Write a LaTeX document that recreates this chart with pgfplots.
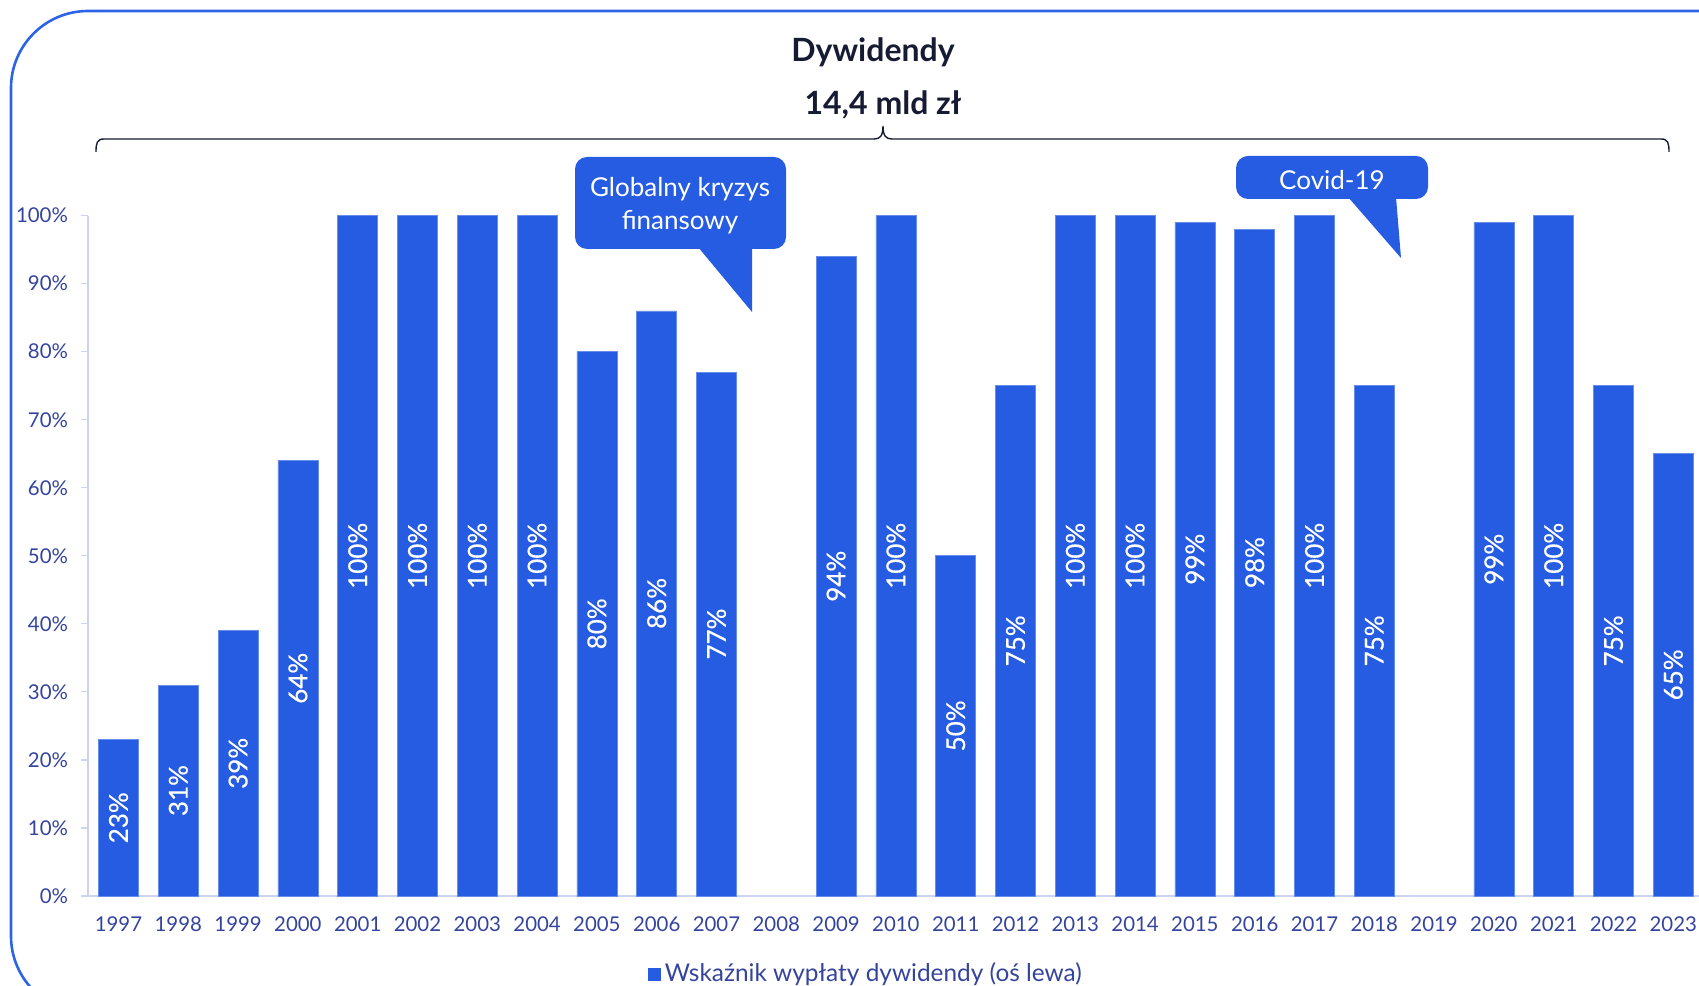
\documentclass[border=0pt]{standalone}
\usepackage{pgfplots}
\pgfplotsset{compat=1.18}
\usepackage{pgfplotstable}
\usepackage{fontspec}
\setmainfont{Lato}
\newfontfamily\medfont[FakeBold=0.5]{Lato}
\definecolor{barblue}{RGB}{38,92,226}
\definecolor{tickblue}{RGB}{52,68,158}
\definecolor{axisline}{RGB}{205,211,243}
\definecolor{titlecol}{RGB}{22,27,51}
\definecolor{framecol}{RGB}{45,99,230}

\pgfplotstableread{
x v
0 23
1 31
2 39
3 64
4 100
5 100
6 100
7 100
8 80
9 86
10 77
12 94
13 100
14 50
15 75
16 100
17 100
18 99
19 98
20 100
21 75
23 99
24 100
25 75
26 65
}\datatable

\begin{document}
\begin{tikzpicture}
\useasboundingbox (0,0) rectangle (849.5pt,493pt);
\begin{scope}[x=0.5pt,y=-0.5pt,yshift=493pt]
  \begin{scope}
    \clip (0,0) rectangle (1699,986);
    \draw[framecol, line width=1.3pt, rounded corners=38.5pt] (11,1013) rectangle (1780,11);
  \end{scope}
  \node[font=\bfseries\fontsize{16}{19}\selectfont, text=titlecol] at (873,52) {Dywidendy};
  \node[font=\bfseries\fontsize{16}{19}\selectfont, text=titlecol] at (883,105) {14,4 mld zł};
  \draw[titlecol, line width=0.7pt] (96,152) .. controls (96,143) and (97,139) .. (104,139) -- (874,139)
     .. controls (880,139) and (883,136) .. (883,126) .. controls (883,136) and (886,139) .. (892,139)
     -- (1661,139) .. controls (1668,139) and (1669,143) .. (1669,152);
  \fill[barblue, rounded corners=6pt] (575,157) rectangle (786,249);
  \fill[barblue] (698,247) -- (752,247) -- (752,312) -- cycle;
  \node[text=white, align=center, font=\fontsize{13}{16.5}\selectfont] at (680,206) {Globalny kryzys\\finansowy};
  \fill[barblue, rounded corners=6pt] (1236,156) rectangle (1428,199);
  \fill[barblue] (1348,197) -- (1396,197) -- (1401,258) -- cycle;
  \node[text=white, font=\fontsize{13}{16}\selectfont] at (1332,180) {Covid-19};
\end{scope}

\begin{axis}[
  at={(44pt,45pt)}, anchor=south west, scale only axis,
  width=805.5pt, height=340.2pt,
  xmin=-0.51, xmax=26.43, ymin=0, ymax=100,
  axis x line*=bottom, axis y line*=left,
  x axis line style={axisline, line width=1pt},
  y axis line style={axisline, line width=0.6pt},
  /pgf/number format/assume math mode=true,
  ytick={0,10,...,100},
  yticklabel={\pgfmathprintnumber{\tick}\%},
  xtick={0,...,26},
  xticklabels={1997,1998,1999,2000,2001,2002,2003,2004,2005,2006,2007,2008,2009,2010,2011,2012,2013,2014,2015,2016,2017,2018,2019,2020,2021,2022,2023},
  tick align=outside,
  major tick length=3.5pt,
  ytick style={axisline, line width=0.6pt},
  xtick style={draw=none},
  ticklabel style={text=tickblue, font=\fontsize{10.2}{12}\selectfont},
  yticklabel style={xshift=-3pt},
  xticklabel style={yshift=-3.4pt},
  clip=false,
  legend style={at={(0.3476,-0.1145)}, anchor=west, draw=none, fill=none,
     font=\fontsize{12.2}{14}\selectfont, text=tickblue, inner sep=0pt},
  legend image code/.code={\fill[barblue] (0pt,-3pt) rectangle (6pt,3pt);},
]
\addplot[ybar, bar width=20pt, fill=barblue, draw=barblue!70!white, line width=0.3pt] table[x=x,y=v]{\datatable};
\addlegendentry{Wskaźnik wypłaty dywidendy (oś lewa)}
\addplot[forget plot, draw=none, mark=none, point meta=explicit,
  nodes near coords={\pgfmathprintnumber{\pgfplotspointmeta}\%},
  every node near coord/.style={rotate=90, anchor=center, text=white, font=\medfont\fontsize{13}{15}\selectfont}]
  table[x=x, y expr=\thisrow{v}/2, meta=v]{\datatable};
\end{axis}
\end{tikzpicture}
\end{document}
